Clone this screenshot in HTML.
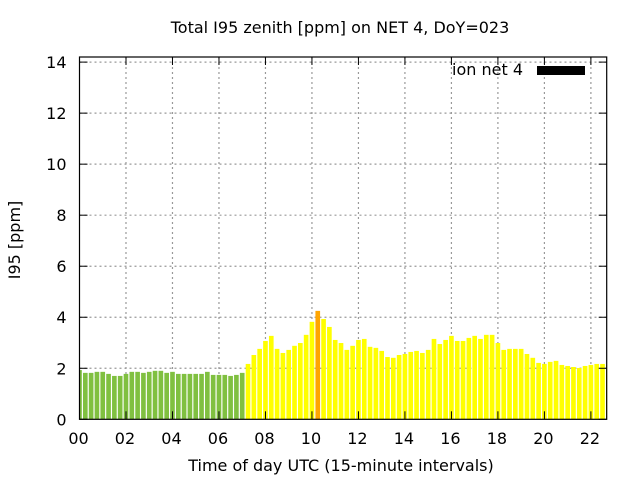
<!DOCTYPE html>
<html><head><meta charset="utf-8"><style>
body{margin:0;background:#fff;}
svg text{font-family:"DejaVu Sans","Liberation Sans",sans-serif;}
</style></head><body>
<svg id="chart" width="640" height="480" xmlns="http://www.w3.org/2000/svg">
<rect width="640" height="480" fill="#fff"/>
<text x="340" y="33" font-size="16" text-anchor="middle">Total I95 zenith [ppm] on NET 4, DoY=023</text>
<text transform="translate(20,240) rotate(-90)" font-size="16" text-anchor="middle">I95 [ppm]</text>
<text x="341" y="471" font-size="16" text-anchor="middle">Time of day UTC (15-minute intervals)</text>
<g id="grid"></g><g id="bars"></g><g id="axes"></g>
<g>
<text x="523" y="75" font-size="16" text-anchor="end">ion net 4</text>
<rect x="537" y="66" width="48" height="9" fill="#000"/>
</g>
</svg>
<script>
const values=[1.93,1.82,1.82,1.86,1.86,1.78,1.70,1.70,1.78,1.86,1.86,1.82,1.86,1.90,1.90,1.82,1.86,1.78,1.78,1.78,1.78,1.78,1.86,1.74,1.74,1.74,1.70,1.74,1.82,
2.17,2.52,2.76,3.07,3.27,2.76,2.60,2.72,2.88,2.99,3.31,3.82,4.25,3.93,3.62,3.11,2.99,2.72,2.88,3.11,3.15,2.84,2.80,2.68,2.44,2.41,2.52,2.56,2.64,2.68,2.60,2.72,
3.15,2.95,3.11,3.27,3.07,3.07,3.19,3.27,3.15,3.31,3.31,2.99,2.72,2.76,2.76,2.76,2.56,2.41,2.21,2.17,2.25,2.29,2.13,2.09,2.05,2.01,2.09,2.13,2.17,2.17,2.13];
const xTicks=[0,2,4,6,8,10,12,14,16,18,20,22];
const xTickLabels=["00","02","04","06","08","10","12","14","16","18","20","22"];
const yTicks=[0,2,4,6,8,10,12,14];
const L=79.5,R=606.7,T=57,B=419.3,XMAX=22.68,YMAX=14.2;
const sx=h=>L+(h/XMAX)*(R-L);
const sy=v=>B-(v/YMAX)*(B-T);
const NS="http://www.w3.org/2000/svg";
function mk(tag,attrs,parent){const e=document.createElementNS(NS,tag);for(const k in attrs)e.setAttribute(k,attrs[k]);parent.appendChild(e);return e;}
const grid=document.getElementById('grid'),bars=document.getElementById('bars'),axes=document.getElementById('axes');
yTicks.forEach(v=>{
  if(v>0&&v<14.2){const g=mk('line',{x1:L,x2:R,y1:sy(v),y2:sy(v),stroke:'#999','stroke-width':1.2,'stroke-dasharray':'2,3'},grid);
  
  }
  const t=mk('text',{x:L-13,y:sy(v)+6,'font-size':16,'text-anchor':'end'},axes);t.textContent=v;
  
  
  mk('line',{x1:L,x2:L+8,y1:sy(v),y2:sy(v),stroke:'#000'},axes);
  mk('line',{x1:R,x2:R-8,y1:sy(v),y2:sy(v),stroke:'#000'},axes);
});
xTicks.forEach((h,i)=>{
  if(h>0){const g=mk('line',{x1:sx(h),x2:sx(h),y1:T,y2:B,stroke:'#999','stroke-width':1.2,'stroke-dasharray':'2,3'},grid);
  
  }
  const t=mk('text',{x:sx(h)-1,y:444,'font-size':16,'text-anchor':'middle'},axes);t.textContent=xTickLabels[i];
  
  
  mk('line',{x1:sx(h),x2:sx(h),y1:B,y2:B-8,stroke:'#000'},axes);
  mk('line',{x1:sx(h),x2:sx(h),y1:T,y2:T+8,stroke:'#000'},axes);
});
const step=0.25,bw=0.8*step;
values.forEach((v,i)=>{
  const c=i*step;let x0=Math.max(0,c-bw/2),x1=Math.min(XMAX,c+bw/2);
  const col=v>4?'#ffa500':(v>=2?'#ffff00':'#80c040');
  const b=mk('rect',{x:sx(x0),y:sy(v),width:sx(x1)-sx(x0),height:B-sy(v),fill:col},bars);
  
  
});
const f=mk('rect',{x:L,y:T,width:R-L,height:B-T,fill:'none',stroke:'#000','stroke-width':1.2},axes);


</script>
</body></html>
